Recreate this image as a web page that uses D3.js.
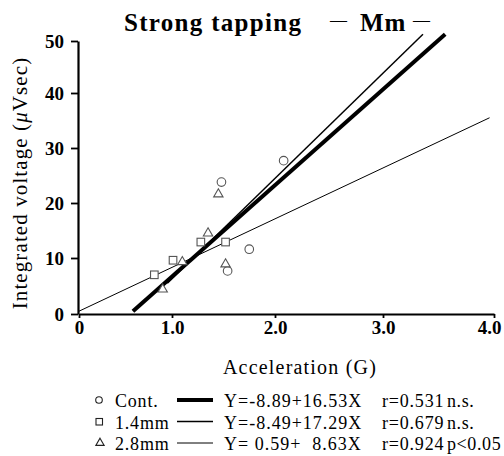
<!DOCTYPE html>
<html>
<head>
<meta charset="utf-8">
<script src="https://cdn.jsdelivr.net/npm/d3@7"></script>
<style>
  body { margin: 0; background: #fff; }
</style>
</head>
<body>
<div id="here"></div>
<script>
// Strong tapping - Mm

// points (acceleration G, integrated voltage)
const contX = [2.08, 1.48, 1.75, 1.54];
const contY = [27.7, 23.8, 11.6, 7.7];
const mm14X = [0.81, 1.01, 1.28, 1.52];
const mm14Y = [7.0, 9.6, 12.9, 12.9];
const mm28X = [1.45, 1.35, 1.52, 0.90, 1.10];
const mm28Y = [21.6, 14.5, 8.9, 4.4, 9.3];

// regression lines, endpoints [x1, y1, x2, y2]
const lineCont = [0.58, 0.5, 3.56, 51.3];
const line14 = [0.95, 5.5, 3.36, 51.3];
const line28 = [0.0, 0.5, 3.96, 35.5];

const xTicks = [0, 1, 2, 3, 4];
const xTickLabels = ["0", "1.0", "2.0", "3.0", "4.0"];
const yTicks = [0, 10, 20, 30, 40, 50];

const groupNames = ["Cont.", "1.4mm", "2.8mm"];
const equations = ["Y=-8.89+16.53X", "Y=-8.49+17.29X", "Y=\u00a00.59+\u00a0\u00a08.63X"];
const rValues = ["r=0.531", "r=0.679", "r=0.924"];
const signif = ["n.s.", "n.s.", "p<0.05"];

const width = 504;
const height = 456;
const serif = "'Liberation Serif', 'DejaVu Serif', serif";

const svg = d3
    .select("#here")
    .append("svg")
    .attr("width", width)
    .attr("height", height)
    .style("font-family", serif);

// scanned figure is a bit uneven, so scales go through every tick
const xScale = d3
    .scaleLinear()
    .domain(xTicks)
    .range([79, 172, 275, 383, 494]);

const yScale = d3
    .scaleLinear()
    .domain(yTicks)
    .range([314, 258, 203, 148, 93, 41]);

// axes
const xAxis = svg
    .append("g")
    .attr("transform", `translate(0, ${yScale(0)})`)
    .call(d3.axisBottom(xScale)
        .tickValues(xTicks)
        .tickFormat((d, i) => xTickLabels[i])
        .tickSize(4)
        .tickSizeOuter(0)
        .tickPadding(12));

const yAxis = svg
    .append("g")
    .attr("transform", `translate(${xScale(0) - 1}, 0)`)
    .call(d3.axisLeft(yScale)
        .tickValues(yTicks)
        .tickSize(7)
        .tickSizeOuter(0)
        .tickPadding(7));

svg.selectAll(".domain").attr("stroke", "#000").attr("stroke-width", 2.2);
svg.selectAll(".tick line").attr("stroke", "#000").attr("stroke-width", 1.8);
svg.selectAll(".tick text")
    .style("font-family", serif)
    .style("font-weight", "bold")
    .style("font-size", "19px")
    .attr("fill", "#000");
xAxis.selectAll(".tick text")
    .attr("dy", "0.2em")
    .attr("dx", d => d === 4 ? -5 : 0);

// regression lines
const regLines = [
    { seg: lineCont, w: 4 },
    { seg: line14, w: 1.5 },
    { seg: line28, w: 1 }
];

svg.selectAll("line.reg")
    .data(regLines)
    .enter()
    .append("line")
    .attr("class", "reg")
    .attr("x1", d => xScale(d.seg[0]))
    .attr("y1", d => yScale(d.seg[1]))
    .attr("x2", d => xScale(d.seg[2]))
    .attr("y2", d => yScale(d.seg[3]))
    .attr("stroke", "#000")
    .attr("stroke-width", d => d.w);

// markers
const markerStroke = "#555";

svg.selectAll("circle.cont")
    .data(contX)
    .enter()
    .append("circle")
    .attr("class", "cont")
    .attr("cx", d => xScale(d))
    .attr("cy", (d, i) => yScale(contY[i]))
    .attr("r", 4.3)
    .attr("fill", "#fff")
    .attr("stroke", markerStroke)
    .attr("stroke-width", 1.1);

svg.selectAll("rect.mm14")
    .data(mm14X)
    .enter()
    .append("rect")
    .attr("class", "mm14")
    .attr("x", d => xScale(d) - 3.8)
    .attr("y", (d, i) => yScale(mm14Y[i]) - 3.8)
    .attr("width", 7.6)
    .attr("height", 7.6)
    .attr("fill", "#fff")
    .attr("stroke", markerStroke)
    .attr("stroke-width", 1.1);

const tri = d3.symbol().type(d3.symbolTriangle).size(38);

svg.selectAll("path.mm28")
    .data(mm28X)
    .enter()
    .append("path")
    .attr("class", "mm28")
    .attr("d", tri)
    .attr("transform", (d, i) => `translate(${xScale(d)}, ${yScale(mm28Y[i])})`)
    .attr("fill", "#fff")
    .attr("stroke", markerStroke)
    .attr("stroke-width", 1.1);

// title
svg.append("text")
    .attr("x", 124)
    .attr("y", 31)
    .attr("font-size", 25)
    .attr("font-weight", "bold")
    .attr("letter-spacing", 1.3)
    .text("Strong tapping");

svg.append("text")
    .attr("x", 360)
    .attr("y", 31)
    .attr("font-size", 25)
    .attr("font-weight", "bold")
    .attr("letter-spacing", 1)
    .text("Mm");

svg.selectAll("text.dash")
    .data([330, 413])
    .enter()
    .append("text")
    .attr("class", "dash")
    .attr("x", d => d)
    .attr("y", 25)
    .attr("font-size", 17)
    .text("\u2014");

// axis labels
svg.append("text")
    .attr("x", 300)
    .attr("y", 374)
    .attr("text-anchor", "middle")
    .attr("font-size", 20)
    .attr("letter-spacing", 1.2)
    .text("Acceleration (G)");

const yAxisLabel = svg
    .append("text")
    .attr("x", -183)
    .attr("y", 27)
    .attr("transform", "rotate(-90)")
    .attr("text-anchor", "middle")
    .attr("font-size", 21)
    .attr("letter-spacing", 1.1);

yAxisLabel.append("tspan").text("Integrated voltage (");
yAxisLabel.append("tspan").attr("font-style", "italic").text("\u03bc");
yAxisLabel.append("tspan").text("Vsec)");

// legend
const rowY = [407, 428.5, 450];
const legend = svg
    .selectAll("g.legend")
    .data(groupNames)
    .enter()
    .append("g")
    .attr("class", "legend")
    .attr("transform", (d, i) => `translate(0, ${rowY[i]})`);

legend.filter((d, i) => i === 0)
    .append("circle")
    .attr("cx", 99)
    .attr("cy", -7)
    .attr("r", 3.3)
    .attr("fill", "none")
    .attr("stroke", "#222")
    .attr("stroke-width", 1.1);

legend.filter((d, i) => i === 1)
    .append("rect")
    .attr("x", 96)
    .attr("y", -10)
    .attr("width", 6.5)
    .attr("height", 6.5)
    .attr("fill", "none")
    .attr("stroke", "#222")
    .attr("stroke-width", 1.1);

legend.filter((d, i) => i === 2)
    .append("path")
    .attr("d", d3.symbol().type(d3.symbolTriangle).size(30))
    .attr("transform", "translate(100, -7)")
    .attr("fill", "none")
    .attr("stroke", "#222")
    .attr("stroke-width", 1.1);

legend.append("line")
    .attr("x1", 177)
    .attr("x2", 213)
    .attr("y1", -7)
    .attr("y2", -7)
    .attr("stroke", "#000")
    .attr("stroke-width", (d, i) => regLines[i].w);

legend.append("text")
    .attr("x", 115)
    .attr("font-size", 18)
    .attr("letter-spacing", 0.8)
    .text(d => d);

legend.append("text")
    .attr("x", 224)
    .attr("font-size", 18)
    .attr("letter-spacing", 1)
    .text((d, i) => equations[i]);

legend.append("text")
    .attr("x", 382)
    .attr("font-size", 18)
    .attr("letter-spacing", 0.8)
    .text((d, i) => rValues[i]);

legend.append("text")
    .attr("x", 447)
    .attr("font-size", 18)
    .attr("letter-spacing", 0.6)
    .text((d, i) => signif[i]);
</script>
</body>
</html>
